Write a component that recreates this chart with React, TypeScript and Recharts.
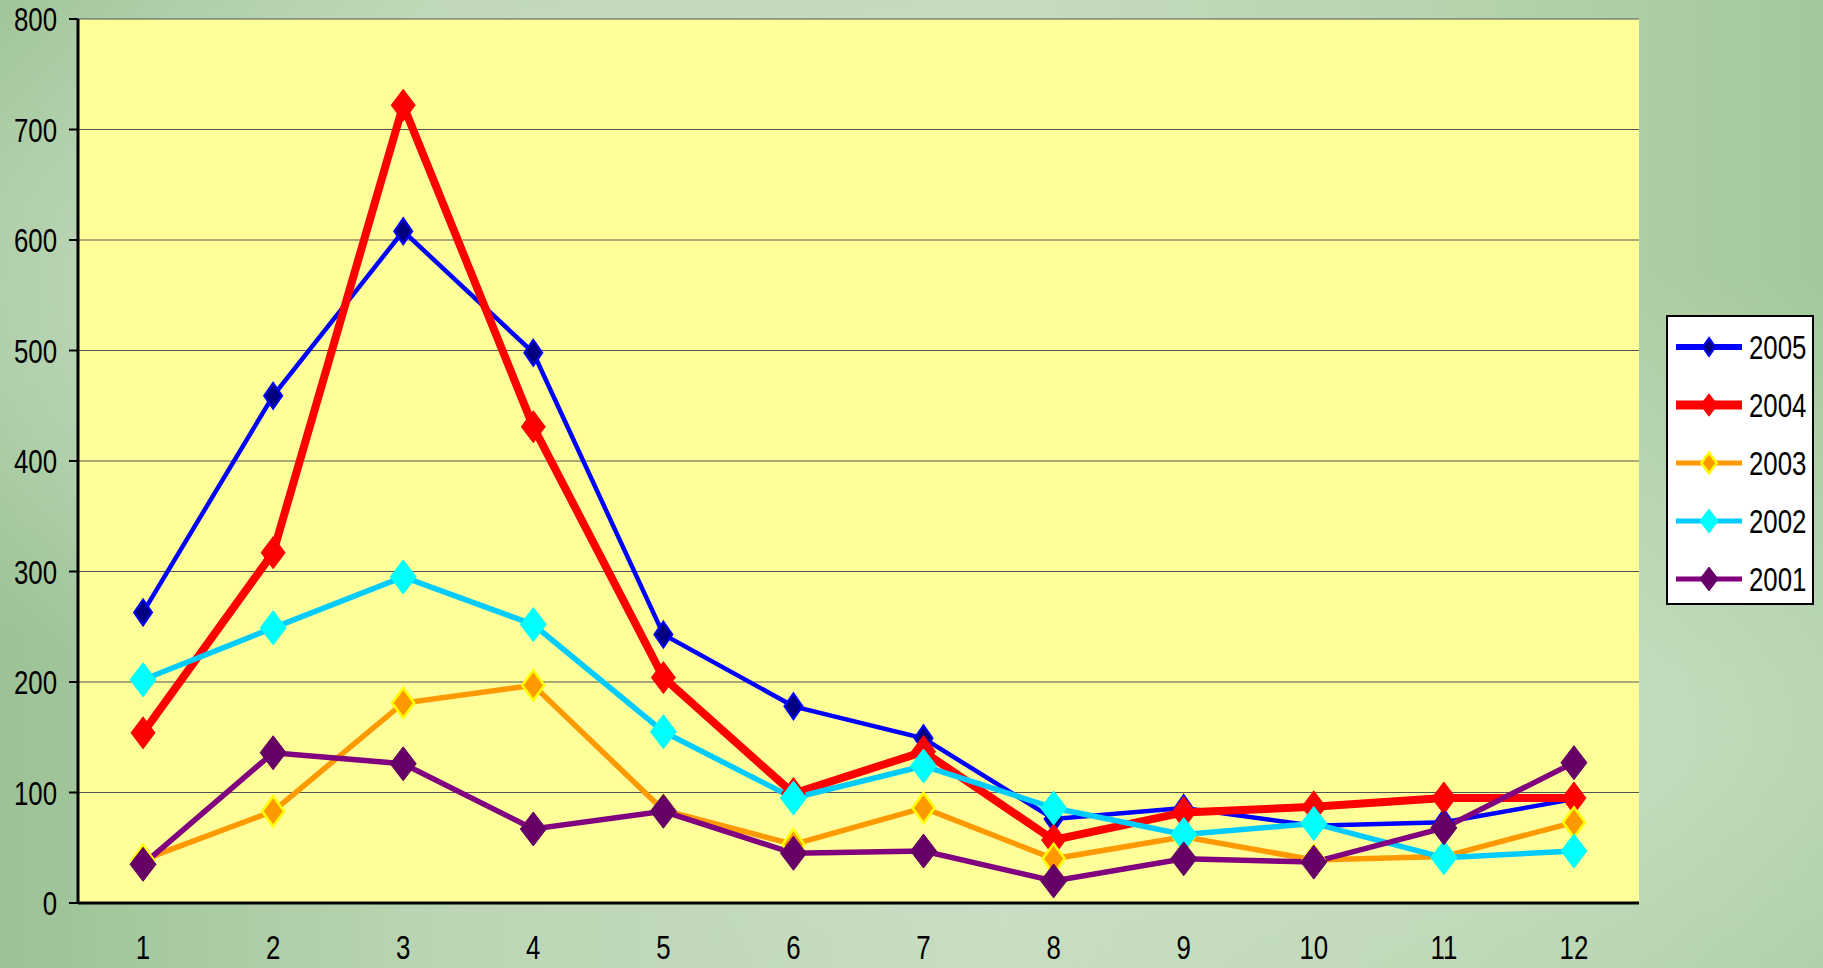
import React from 'react';
import { LineChart, Line, XAxis, YAxis, CartesianGrid } from 'recharts';

const months = [1, 2, 3, 4, 5, 6, 7, 8, 9, 10, 11, 12];
const s2005 = [263, 459, 608, 498, 243, 178, 149, 76, 86, 70, 73, 94];
const s2004 = [154, 317, 722, 431, 204, 99, 137, 57, 82, 87, 95, 95];
const s2003 = [39, 83, 181, 197, 84, 53, 86, 40, 60, 39, 42, 73];
const s2002 = [202, 249, 295, 252, 155, 95, 124, 86, 62, 72, 41, 47];
const s2001 = [35, 136, 126, 67, 83, 45, 47, 20, 40, 37, 68, 127];
const yTicks = [0, 100, 200, 300, 400, 500, 600, 700, 800];
const seriesNames = ['2005', '2004', '2003', '2002', '2001'];
const seriesValues = [s2005, s2004, s2003, s2002, s2001];

const styles = [
  { line: '#0000FF', width: 4.5, lw: 6, fill: '#000080', stroke: '#0000FF', sw: 2, w: 9, h: 13 },
  { line: '#FF0000', width: 8, lw: 9, fill: '#FF0000', stroke: '#FF0000', sw: 1, w: 12, h: 16 },
  { line: '#FF9900', width: 5.5, lw: 5, fill: '#FF9900', stroke: '#FFFF00', sw: 2.5, w: 11, h: 15 },
  { line: '#00CCFF', width: 5.5, lw: 5, fill: '#00FFFF', stroke: '#00FFFF', sw: 1, w: 13, h: 17 },
  { line: '#800080', width: 5.5, lw: 5, fill: '#660066', stroke: '#660066', sw: 1, w: 13, h: 17 },
];

const data = months.map((m, i) => {
  const row: any = { m };
  seriesNames.forEach((n, k) => { row[n] = seriesValues[k][i]; });
  return row;
});
const bounds = [...months.map((m) => m - 0.5), months[months.length - 1] + 0.5];

const FONT = "'Liberation Sans', Arial, sans-serif";
const FS = 34;
const SX = 0.76;

const makeDot = (st: any) => (props: any) => {
  const { cx, cy, index } = props;
  if (cx == null || cy == null) return <g key={index} />;
  return (
    <path
      key={index}
      d={`M${cx},${cy - st.h}L${cx + st.w},${cy}L${cx},${cy + st.h}L${cx - st.w},${cy}Z`}
      fill={st.fill}
      stroke={st.stroke}
      strokeWidth={st.sw}
    />
  );
};

const YTick = (props: any) => {
  const { x, y, payload } = props;
  return (
    <g transform={`translate(${x},${y}) scale(${SX},1)`}>
      <text x={0} y={0} dy="0.36em" textAnchor="end" fill="#000" fontSize={FS} fontFamily={FONT}>
        {payload.value}
      </text>
    </g>
  );
};

const XTick = (props: any) => {
  const { x, y, payload } = props;
  return (
    <g transform={`translate(${x},${y}) scale(${SX},1)`}>
      <text x={0} y={55} textAnchor="middle" fill="#000" fontSize={FS} fontFamily={FONT}>
        {payload.value}
      </text>
    </g>
  );
};

const LegendBox = () => (
  <div
    style={{
      position: 'absolute',
      left: 1666,
      top: 315,
      width: 148,
      height: 290,
      background: '#FFFFFF',
      border: '2px solid #000',
      boxSizing: 'border-box',
    }}
  >
    <svg width={146} height={288} style={{ display: 'block' }}>
      {seriesNames.map((n, k) => {
        const st = styles[k];
        const cy = 30 + k * 58;
        const dw = st.w * 0.7;
        const dh = st.h * 0.7;
        return (
          <g key={n}>
            <line x1={8} y1={cy} x2={74} y2={cy} stroke={st.line} strokeWidth={st.lw} />
            <path
              d={`M41,${cy - dh}L${41 + dw},${cy}L41,${cy + dh}L${41 - dw},${cy}Z`}
              fill={st.fill}
              stroke={st.stroke}
              strokeWidth={st.sw}
            />
            <g transform={`translate(81,${cy}) scale(${SX},1)`}>
              <text x={0} y={0} dy="0.36em" fill="#000" fontSize={FS} fontFamily={FONT}>
                {n}
              </text>
            </g>
          </g>
        );
      })}
    </svg>
  </div>
);

export default function App() {
  return (
    <div
      style={{
        position: 'absolute',
        left: 0,
        top: 0,
        width: 1823,
        height: 968,
        overflow: 'hidden',
        background:
          'radial-gradient(ellipse at 20% 30%, rgba(220,235,215,0.6), rgba(0,0,0,0) 40%), radial-gradient(ellipse at 85% 75%, rgba(215,232,210,0.6), rgba(0,0,0,0) 45%), linear-gradient(90deg, #9cc296 0%, #bcd6b5 25%, #c6dcc0 55%, #b6d3ae 80%, #a4c89d 100%)',
      }}
    >
      <LineChart
        width={1823}
        height={968}
        data={data}
        margin={{ top: 19, right: 184, bottom: 0, left: 0 }}
      >
        <CartesianGrid
          vertical={false}
          horizontal={true}
          fill="#FFFF99"
          fillOpacity={1}
          stroke="#555555"
          strokeWidth={1.2}
        />
        <XAxis
          xAxisId="edge"
          dataKey="m"
          type="number"
          domain={[bounds[0], bounds[bounds.length - 1]]}
          ticks={bounds}
          tick={false}
          tickLine={{ stroke: '#000', strokeWidth: 2 }}
          tickSize={10}
          axisLine={{ stroke: '#000', strokeWidth: 3 }}
          height={1}
          allowDataOverflow
        />
        <XAxis
          xAxisId="lab"
          dataKey="m"
          type="number"
          domain={[bounds[0], bounds[bounds.length - 1]]}
          ticks={months}
          tickLine={false}
          axisLine={false}
          tickSize={0}
          tickMargin={0}
          height={64}
          interval={0}
          tick={<XTick />}
          allowDataOverflow
        />
        <YAxis
          domain={[0, 800]}
          ticks={yTicks}
          interval={0}
          width={78}
          tickSize={9}
          tickMargin={12}
          tickLine={{ stroke: '#000', strokeWidth: 2 }}
          axisLine={{ stroke: '#000', strokeWidth: 3 }}
          tick={<YTick />}
        />
        {seriesNames.map((n, k) => (
          <Line
            key={n}
            xAxisId="lab"
            type="linear"
            dataKey={n}
            stroke={styles[k].line}
            strokeWidth={styles[k].width}
            dot={makeDot(styles[k])}
            activeDot={false}
            isAnimationActive={false}
          />
        ))}
      </LineChart>
      <LegendBox />
    </div>
  );
}
